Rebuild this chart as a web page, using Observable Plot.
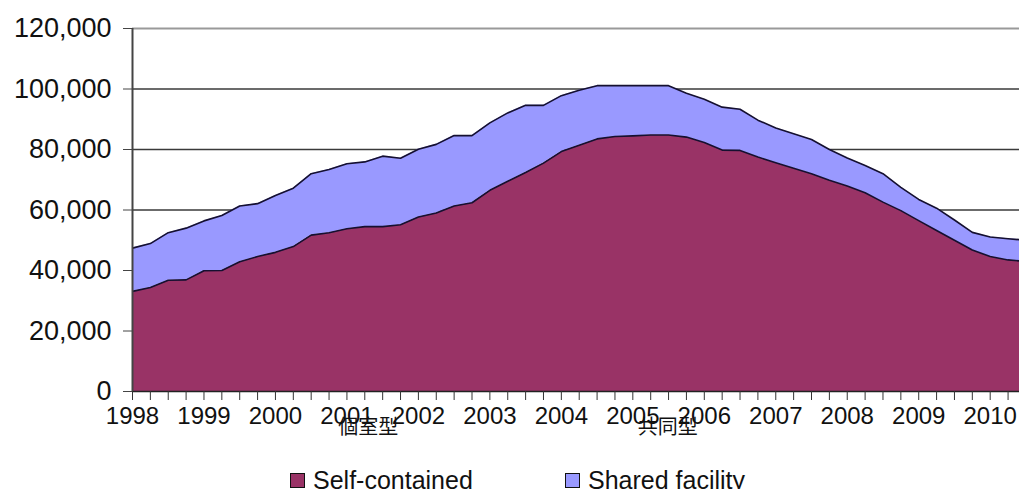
<!DOCTYPE html>
<html><head><meta charset="utf-8">
<script src="https://cdn.jsdelivr.net/npm/d3@7"></script>
<script src="https://cdn.jsdelivr.net/npm/@observablehq/plot@0.6"></script>
<style>
html,body{margin:0;padding:0;background:#fff;overflow:hidden;}
body{font-family:"Liberation Sans",Arial,sans-serif;width:1019px;height:489px;}
#chart svg{display:block;}
#legend{position:relative;height:31px;font-size:25px;color:#111;}
#legend .item{position:absolute;top:7px;line-height:30px;white-space:nowrap;display:flex;align-items:center;}
#legend .sw{display:inline-block;width:13px;height:13px;border:1.5px solid #111;margin-right:8px;}
</style></head>
<body><div id="chart"></div><div id="legend"></div>
<script>
const years = [1998,1999,2000,2001,2002,2003,2004,2005,2006,2007,2008,2009,2010];
const quarterOffsets = [0, 0.25, 0.5, 0.75];
const selfContained = [
  33100,34400,36800,36900, 39900,40000,42900,44600, 46000,47900,51700,52500,
  53800,54500,54500,55100, 57700,59000,61300,62400, 66500,69500,72400,75500,
  79300,81400,83500,84300, 84500,84800,84800,84100, 82300,79800,79700,77500,
  75600,73800,72000,69800, 67900,65700,62600,59800, 56500,53200,50000,46800,
  44600,43500,43000
];
const sharedFacility = [
  14300,14500,15700,17100, 16500,18200,18400,17500, 18800,19300,20300,20900,
  21500,21400,23300,22000, 22400,22700,23300,22200, 22300,22600,22200,19100,
  18500,18200,17600,16800, 16600,16300,16300,14500, 14300,14200,13600,12200,
  11500,11400,11300,10200, 9300,9000,9400,7700, 7000,7400,6700,5800,
  6500,7000,7000
];
const seriesNames = ["Self-contained", "Shared facility"];
const seriesColors = ["#993366", "#9999FF"];
const yTicks = [0, 20000, 40000, 60000, 80000, 100000, 120000];
const jpLabels = ["個室型", "共同型"];
const jpLabelAt = [2001.3, 2005.49];

const quarters = years.flatMap(y => quarterOffsets.map(q => y + q)).slice(0, selfContained.length);
const data = quarters.flatMap((t, i) => [
  {t, series: seriesNames[0], value: selfContained[i]},
  {t, series: seriesNames[1], value: sharedFacility[i]}
]);
const xMax = 2010.41;

const chart = Plot.plot({
  width: 1019, height: 458,
  marginLeft: 132, marginRight: 0, marginTop: 28, marginBottom: 67,
  style: {fontFamily: '"Liberation Sans", Arial, sans-serif', color: "#111", background: "#fff", overflow: "visible"},
  x: {domain: [1998, xMax]},
  y: {domain: [0, 120000]},
  color: {domain: seriesNames, range: seriesColors},
  marks: [
    Plot.gridY(yTicks.slice(1, -1), {stroke: "#3a3a3a", strokeOpacity: 1, strokeWidth: 1.3}),
    Plot.ruleY([yTicks[yTicks.length - 1]], {stroke: "#999", strokeWidth: 2}),
    Plot.areaY(data, {x: "t", y: "value", fill: "series", z: "series", clip: true}),
    Plot.lineY(data, Plot.stackY2({x: "t", y: "value", z: "series", stroke: "#151030", strokeWidth: 1.6, clip: true})),
    Plot.ruleY([0], {stroke: "#222", strokeWidth: 1.5}),
    Plot.ruleX([1998], {stroke: "#444", strokeWidth: 2}),
    Plot.axisY({ticks: yTicks, tickFormat: d3.format(","), fontSize: 27, tickSize: 9, tickPadding: 12, label: null, stroke: "#444"}),
    Plot.axisX({ticks: quarters.filter(t => t <= xMax), tickFormat: () => "", tickSize: 9, label: null, stroke: "#333"}),
    Plot.axisX({ticks: years, tickFormat: d => String(d), tickSize: 0, tickPadding: 15, fontSize: 24, label: null}),
    Plot.text(jpLabels, {x: (d, i) => jpLabelAt[i], text: d => d, frameAnchor: "bottom", dy: 42, fontSize: 20, fontFamily: '"Noto Sans CJK JP", sans-serif', fill: "#111"})
  ]
});
document.getElementById("chart").appendChild(chart);

const legend = document.getElementById("legend");
const legendLeft = [290, 565];
seriesNames.forEach((name, i) => {
  const item = document.createElement("span");
  item.className = "item";
  item.style.left = legendLeft[i] + "px";
  const sw = document.createElement("span");
  sw.className = "sw";
  sw.style.background = seriesColors[i];
  item.appendChild(sw);
  item.appendChild(document.createTextNode(name));
  legend.appendChild(item);
});
</script>
</body></html>
